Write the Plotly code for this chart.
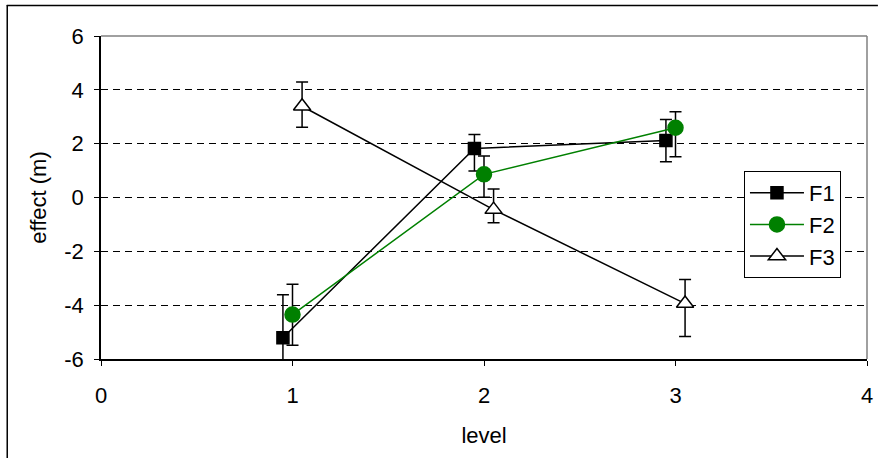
import plotly.graph_objects as go

levels = [1, 2, 3]
series_names = ["F1", "F2", "F3"]

f1_mean = [-5.21, 1.82, 2.12]
f1_err_plus = [1.60, 0.52, 0.78]
f1_err_minus = [1.04, 0.84, 0.79]

f2_mean = [-4.35, 0.86, 2.59]
f2_err_plus = [1.13, 0.68, 0.60]
f2_err_minus = [1.14, 0.85, 1.08]

f3_mean = [3.39, -0.45, -3.94]
f3_err_plus = [0.90, 0.77, 0.89]
f3_err_minus = [0.78, 0.49, 1.22]

x_ticks = [0, 1, 2, 3, 4]
y_ticks = [-6, -4, -2, 0, 2, 4, 6]

# layout constants (pixels)
W, H = 884, 458
L, R, T, B = 101, 11, 36, 99
PW, PH = W - L - R, H - T - B

def px(xp):
    return (xp - L) / PW

def py(yp):
    return (H - B - yp) / PH

dodge = [-0.05, 0.0, 0.05]
styles = [
    dict(color="black", symbol="square", size=12, fill="black", lw=1.5),
    dict(color="#008000", symbol="circle", size=15, fill="#008000", lw=1.5),
    dict(color="black", symbol="triangle-up", size=15, fill="white", lw=1.5),
]
means = [f1_mean, f2_mean, f3_mean]
eplus = [f1_err_plus, f2_err_plus, f3_err_plus]
eminus = [f1_err_minus, f2_err_minus, f3_err_minus]

fig = go.Figure()
for i, name in enumerate(series_names):
    s = styles[i]
    fig.add_trace(go.Scatter(
        x=[lv + dodge[i] for lv in levels],
        y=means[i],
        name=name,
        mode="lines+markers",
        legendgroup=name,
        line=dict(color=s["color"], width=s["lw"]),
        marker=dict(symbol=s["symbol"], size=s["size"], color=s["fill"],
                    line=dict(color="black" if i != 1 else s["color"], width=1.5)),
        error_y=dict(type="data", symmetric=False, array=eplus[i], arrayminus=eminus[i],
                     color="black", thickness=1.5, width=6),
    ))

font = dict(family="Liberation Sans, Arial, sans-serif", size=22, color="black")

fig.update_layout(
    width=W, height=H,
    margin=dict(l=L, r=R, t=T, b=B, pad=0),
    paper_bgcolor="white", plot_bgcolor="white",
    font=font,
    showlegend=True,
    legend=dict(
        x=px(749), y=py(171), xanchor="left", yanchor="top",
        bgcolor="white", bordercolor="black", borderwidth=1,
        font=dict(family="Liberation Sans, Arial, sans-serif", size=22, color="black"),
        tracegroupgap=8, traceorder="normal", itemwidth=54,
    ),
    xaxis=dict(
        range=[0, 4], tickvals=x_ticks, ticktext=[str(v) for v in x_ticks],
        showgrid=False, zeroline=False,
        showline=True, linecolor="black", linewidth=1.5,
        ticks="outside", ticklen=5, tickcolor="black", tickwidth=1,
        ticklabelstandoff=11,
        title=dict(text="level", standoff=20, font=font),
        tickfont=font,
    ),
    yaxis=dict(
        range=[-6, 6], tickvals=y_ticks, ticktext=[str(v) for v in y_ticks],
        showgrid=True, gridcolor="black", gridwidth=1, griddash="7px,5px",
        zeroline=False,
        showline=True, linecolor="black", linewidth=1.5,
        ticks="outside", ticklen=5, tickcolor="black", tickwidth=1,
        ticklabelstandoff=6,
        title=dict(text="effect (m)", standoff=12, font=font),
        tickfont=font,
    ),
    shapes=[
        # plot-area border (grey, top and right)
        dict(type="line", xref="paper", yref="paper", x0=0, x1=1, y0=1, y1=1,
             line=dict(color="#808080", width=1.5), layer="below"),
        dict(type="line", xref="paper", yref="paper", x0=1, x1=1, y0=0, y1=1,
             line=dict(color="#808080", width=1.5), layer="below"),
        # chart-area border
        dict(type="line", xref="paper", yref="paper", x0=px(6), x1=px(884), y0=py(5.5), y1=py(5.5),
             line=dict(color="black", width=1.5)),
        dict(type="line", xref="paper", yref="paper", x0=px(6.5), x1=px(6.5), y0=py(5), y1=py(458),
             line=dict(color="black", width=1.5)),
    ],
)

fig.write_html("out.html")
